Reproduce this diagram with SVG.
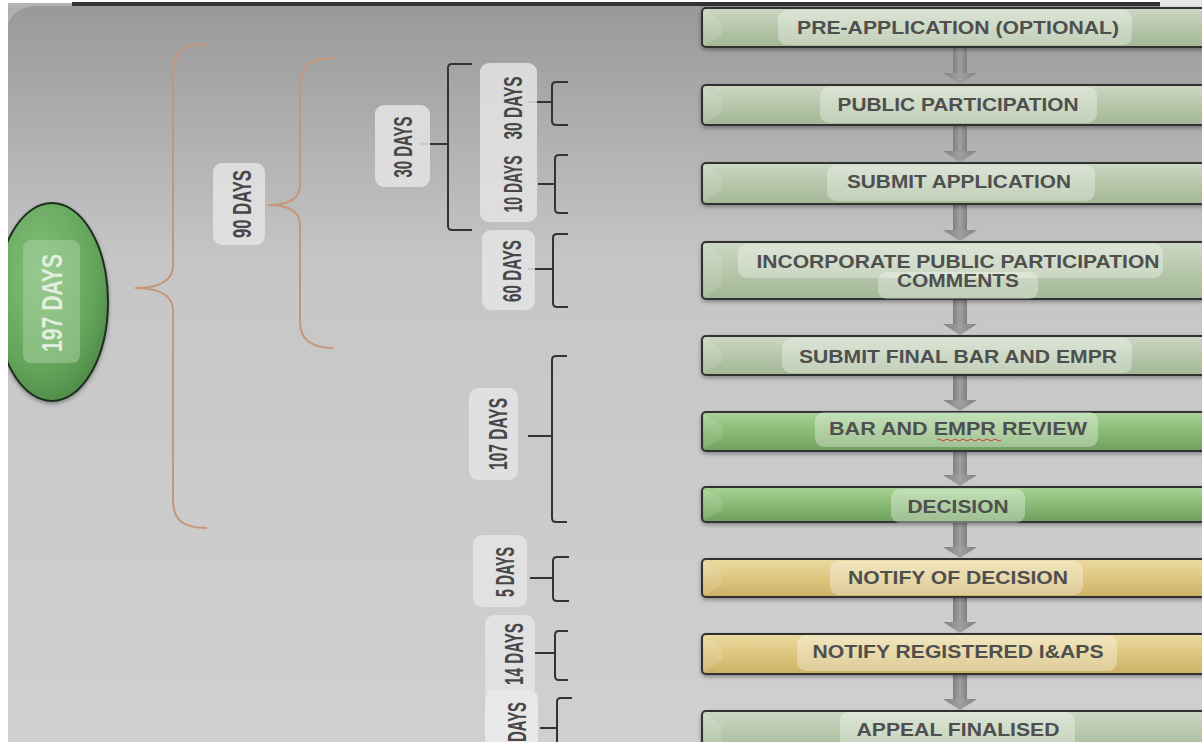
<svg xmlns="http://www.w3.org/2000/svg" width="1202" height="742" viewBox="0 0 1202 742">
<defs>
<linearGradient id="bg" x1="0" y1="0" x2="0" y2="1">
<stop offset="0" stop-color="#999999"/>
<stop offset="0.35" stop-color="#c6c6c6"/>
<stop offset="1" stop-color="#d0d0d0"/>
</linearGradient>
<linearGradient id="sage" x1="0" y1="0" x2="0" y2="1">
<stop offset="0" stop-color="#cdd8c4"/>
<stop offset="0.5" stop-color="#b6c7aa"/>
<stop offset="1" stop-color="#a3b796"/>
</linearGradient>
<linearGradient id="green" x1="0" y1="0" x2="0" y2="1">
<stop offset="0" stop-color="#a9d398"/>
<stop offset="0.5" stop-color="#89bb76"/>
<stop offset="1" stop-color="#6f9f5e"/>
</linearGradient>
<linearGradient id="yellow" x1="0" y1="0" x2="0" y2="1">
<stop offset="0" stop-color="#ecdba2"/>
<stop offset="0.5" stop-color="#dec67f"/>
<stop offset="1" stop-color="#cdb066"/>
</linearGradient>
<radialGradient id="oval" cx="0.4" cy="0.35" r="0.7">
<stop offset="0" stop-color="#84c079"/>
<stop offset="0.7" stop-color="#64a45c"/>
<stop offset="1" stop-color="#4e8a47"/>
</radialGradient>
<linearGradient id="shaft" x1="0" y1="0" x2="1" y2="0">
<stop offset="0" stop-color="#808080"/>
<stop offset="0.5" stop-color="#a0a0a0"/>
<stop offset="1" stop-color="#808080"/>
</linearGradient>
<filter id="sh" x="-5%" y="-30%" width="110%" height="170%">
<feGaussianBlur in="SourceAlpha" stdDeviation="2"/>
<feOffset dx="0" dy="2" result="b"/>
<feComponentTransfer><feFuncA type="linear" slope="0.35"/></feComponentTransfer>
<feMerge><feMergeNode/><feMergeNode in="SourceGraphic"/></feMerge>
</filter>
</defs>
<style>
.box{stroke:#333;stroke-width:2}
.bev{fill:#ffffff;opacity:0.12}
.pill{fill:#ffffff;opacity:0.33}
.lbl{font-family:"Liberation Sans",Arial,sans-serif;font-weight:bold;font-size:18px;fill:#4f4f4f;text-anchor:middle}
.rpill{fill:#e4e4e4;opacity:0.85}
.rtx{font-family:"Liberation Sans",Arial,sans-serif;font-weight:bold;font-size:25px;fill:#474747;text-anchor:middle}
.brace{fill:none;stroke:#c6957a;stroke-width:2}
.brk{fill:none;stroke:#333;stroke-width:2}
.arr{fill:url(#shaft)}
</style>
<rect x="0" y="0" width="1202" height="742" fill="#ffffff"/>
<rect x="8" y="6" width="1194" height="736" fill="url(#bg)"/>
<path d="M8,3 L72,3 L72,6 L8,6 Z" fill="#b4b4b4"/>
<rect x="72" y="2" width="1088" height="4" fill="#333333"/>
<rect x="1160" y="0" width="42" height="7" fill="#e6e6e6"/>
<path d="M8,6 L34,6 Q14,8 8,24 Z" fill="#b0b0b0"/>

<g id="connectors">
<g class="arr">
<rect x="953" y="47" width="14" height="27"/><polygon points="943,73 977,73 960,84"/>
<rect x="953" y="125" width="14" height="27"/><polygon points="943,151 977,151 960,162"/>
<rect x="953" y="204" width="14" height="27"/><polygon points="943,230 977,230 960,241"/>
<rect x="953" y="299" width="14" height="26"/><polygon points="943,324 977,324 960,335"/>
<rect x="953" y="375" width="14" height="26"/><polygon points="943,400 977,400 960,411"/>
<rect x="953" y="451" width="14" height="25"/><polygon points="943,475 977,475 960,486"/>
<rect x="953" y="522" width="14" height="26"/><polygon points="943,547 977,547 960,558"/>
<rect x="953" y="597" width="14" height="26"/><polygon points="943,622 977,622 960,633"/>
<rect x="953" y="674" width="14" height="26"/><polygon points="943,699 977,699 960,710"/>
</g>
<path class="brace" d="M205,44 C183,44 173,52 173,75 L173,265 C173,280 160,288 135,288 C160,288 173,296 173,311 L173,500 C173,520 183,528 207,528"/>
<path class="brace" d="M333,58 C312,58 300,66 300,85 L300,185 C300,198 290,205 268,205 C290,205 300,212 300,225 L300,322 C300,340 312,348 333,348"/>
<path class="brk" d="M472,64 L452,64 Q448,64 448,68 L448,226 Q448,230 452,230 L472,230 M420,144 L448,144"/>
<path class="brk" d="M568,82 L556,82 Q552,82 552,86 L552,121 Q552,125 556,125 L568,125 M528,102 L552,102"/>
<path class="brk" d="M568,155 L559,155 Q555,155 555,159 L555,209 Q555,213 559,213 L568,213 M538,184 L555,184"/>
<path class="brk" d="M568,234 L557,234 Q553,234 553,238 L553,303 Q553,307 557,307 L568,307 M528,269 L553,269"/>
<path class="brk" d="M567,356 L556,356 Q552,356 552,360 L552,518 Q552,522 556,522 L567,522 M528,436 L552,436"/>
<path class="brk" d="M569,557 L557,557 Q553,557 553,561 L553,597 Q553,601 557,601 L569,601 M530,578 L553,578"/>
<path class="brk" d="M568,631 L559,631 Q555,631 555,635 L555,676 Q555,680 559,680 L568,680 M535,653 L555,653"/>
<path class="brk" d="M572,698 L561,698 Q557,698 557,702 L557,750 M540,728 L557,728"/>
</g>

<g id="n197">
<ellipse cx="52" cy="302" rx="56" ry="99" fill="url(#oval)" stroke="#1e2e1e" stroke-width="2" filter="url(#sh)"/>
<rect x="23" y="240" width="57" height="123" rx="8" fill="#a6d09d" opacity="0.55"/>
<text transform="translate(52,303) rotate(-90)" dy="10" font-family="Liberation Sans, Arial, sans-serif" font-weight="bold" font-size="29" fill="#e2efde" text-anchor="middle" textLength="98" lengthAdjust="spacingAndGlyphs">197 DAYS</text>
</g>
<rect x="0" y="0" width="8" height="742" fill="#ffffff"/>

<g id="l90"><rect class="rpill" x="213" y="163" width="52" height="82" rx="9"/><text class="rtx" transform="translate(242,204) rotate(-90)" dy="9" textLength="68" lengthAdjust="spacingAndGlyphs">90 DAYS</text></g>
<g id="l30a"><rect class="rpill" x="375" y="105" width="55" height="82" rx="9"/><text class="rtx" transform="translate(403,147) rotate(-90)" dy="9" textLength="61" lengthAdjust="spacingAndGlyphs">30 DAYS</text></g>
<g id="l30b"><rect class="rpill" x="480" y="63" width="57" height="159" rx="9"/><text class="rtx" transform="translate(513,108) rotate(-90)" dy="9" textLength="63" lengthAdjust="spacingAndGlyphs">30 DAYS</text><text class="rtx" transform="translate(513,184) rotate(-90)" dy="9" textLength="57" lengthAdjust="spacingAndGlyphs">10 DAYS</text></g>
<g id="l60"><rect class="rpill" x="482" y="230" width="53" height="80" rx="9"/><text class="rtx" transform="translate(512,271) rotate(-90)" dy="9" textLength="62" lengthAdjust="spacingAndGlyphs">60 DAYS</text></g>
<g id="l107"><rect class="rpill" x="469" y="388" width="49" height="92" rx="9"/><text class="rtx" transform="translate(498,434) rotate(-90)" dy="9" textLength="72" lengthAdjust="spacingAndGlyphs">107 DAYS</text></g>
<g id="l5"><rect class="rpill" x="473" y="535" width="54" height="72" rx="9"/><text class="rtx" transform="translate(505,572) rotate(-90)" dy="9" textLength="50" lengthAdjust="spacingAndGlyphs">5 DAYS</text></g>
<g id="l14"><rect class="rpill" x="485" y="615" width="50" height="85" rx="9"/><text class="rtx" transform="translate(514,654) rotate(-90)" dy="9" textLength="62" lengthAdjust="spacingAndGlyphs">14 DAYS</text></g>
<g id="lx"><rect x="485" y="690" width="53" height="70" rx="9" fill="#e8e8e8"/><text class="rtx" transform="translate(517,722) rotate(-90)" dy="9" textLength="40" lengthAdjust="spacingAndGlyphs">DAYS</text></g>

<g id="s1"><rect class="box" x="702" y="8" width="520" height="39" rx="4" fill="url(#sage)" filter="url(#sh)"/><polygon class="bev" points="704,10 722,22 722,35 704,45"/><rect class="pill" x="778" y="10" width="354" height="35" rx="9"/><text class="lbl" x="958" y="34" textLength="322" lengthAdjust="spacingAndGlyphs">PRE-APPLICATION (OPTIONAL)</text></g>
<g id="s2"><rect class="box" x="702" y="85" width="520" height="40" rx="4" fill="url(#sage)" filter="url(#sh)"/><polygon class="bev" points="704,87 722,99 722,112 704,123"/><rect class="pill" x="820" y="87" width="277" height="36" rx="9"/><text class="lbl" x="958" y="111" textLength="241" lengthAdjust="spacingAndGlyphs">PUBLIC PARTICIPATION</text></g>
<g id="s3"><rect class="box" x="702" y="163" width="520" height="41" rx="4" fill="url(#sage)" filter="url(#sh)"/><polygon class="bev" points="704,165 722,177 722,190 704,202"/><rect class="pill" x="827" y="165" width="268" height="36" rx="9"/><text class="lbl" x="959" y="188" textLength="224" lengthAdjust="spacingAndGlyphs">SUBMIT APPLICATION</text></g>
<g id="s4"><rect class="box" x="702" y="242" width="520" height="57" rx="4" fill="url(#sage)" filter="url(#sh)"/><polygon class="bev" points="704,244 722,256 722,285 704,297"/><rect class="pill" x="738" y="244" width="425" height="34" rx="9"/><rect class="pill" x="878" y="272" width="160" height="27" rx="9"/><text class="lbl" x="958" y="268" textLength="403" lengthAdjust="spacingAndGlyphs">INCORPORATE PUBLIC PARTICIPATION</text><text class="lbl" x="958" y="287" textLength="122" lengthAdjust="spacingAndGlyphs">COMMENTS</text></g>
<g id="s5"><rect class="box" x="702" y="336" width="520" height="39" rx="4" fill="url(#sage)" filter="url(#sh)"/><polygon class="bev" points="704,338 722,350 722,362 704,373"/><rect class="pill" x="782" y="338" width="350" height="35" rx="9"/><text class="lbl" x="958" y="363" textLength="318" lengthAdjust="spacingAndGlyphs">SUBMIT FINAL BAR AND EMPR</text></g>
<g id="s6"><rect class="box" x="702" y="412" width="520" height="39" rx="4" fill="url(#green)" filter="url(#sh)"/><polygon class="bev" points="704,414 722,426 722,438 704,449"/><rect class="pill" x="815" y="412" width="283" height="35" rx="9"/><text class="lbl" x="958" y="435" textLength="258" lengthAdjust="spacingAndGlyphs">BAR AND EMPR REVIEW</text><path d="M937,440 q2,-2 4,0 t4,0 t4,0 t4,0 t4,0 t4,0 t4,0 t4,0 t4,0 t4,0 t4,0 t4,0 t4,0 t4,0 t4,0 t4,0" fill="none" stroke="#d04040" stroke-width="1"/></g>
<g id="s7"><rect class="box" x="702" y="487" width="520" height="35" rx="4" fill="url(#green)" filter="url(#sh)"/><polygon class="bev" points="704,489 722,499 722,510 704,520"/><rect class="pill" x="891" y="489" width="134" height="34" rx="9"/><text class="lbl" x="958" y="513" textLength="101" lengthAdjust="spacingAndGlyphs">DECISION</text></g>
<g id="s8"><rect class="box" x="702" y="559" width="520" height="38" rx="4" fill="url(#yellow)" filter="url(#sh)"/><polygon class="bev" points="704,561 722,573 722,585 704,595"/><rect class="pill" x="830" y="561" width="253" height="34" rx="9"/><text class="lbl" x="958" y="584" textLength="220" lengthAdjust="spacingAndGlyphs">NOTIFY OF DECISION</text></g>
<g id="s9"><rect class="box" x="702" y="634" width="520" height="40" rx="4" fill="url(#yellow)" filter="url(#sh)"/><polygon class="bev" points="704,636 722,648 722,660 704,672"/><rect class="pill" x="797" y="635" width="320" height="36" rx="9"/><text class="lbl" x="958" y="658" textLength="291" lengthAdjust="spacingAndGlyphs">NOTIFY REGISTERED I&amp;APS</text></g>
<g id="s10"><rect class="box" x="702" y="711" width="520" height="45" rx="4" fill="url(#sage)" filter="url(#sh)"/><polygon class="bev" points="704,713 722,725 722,742 704,742"/><rect class="pill" x="840" y="712" width="235" height="40" rx="9"/><text class="lbl" x="958" y="736" textLength="203" lengthAdjust="spacingAndGlyphs">APPEAL FINALISED</text></g>
</svg>
